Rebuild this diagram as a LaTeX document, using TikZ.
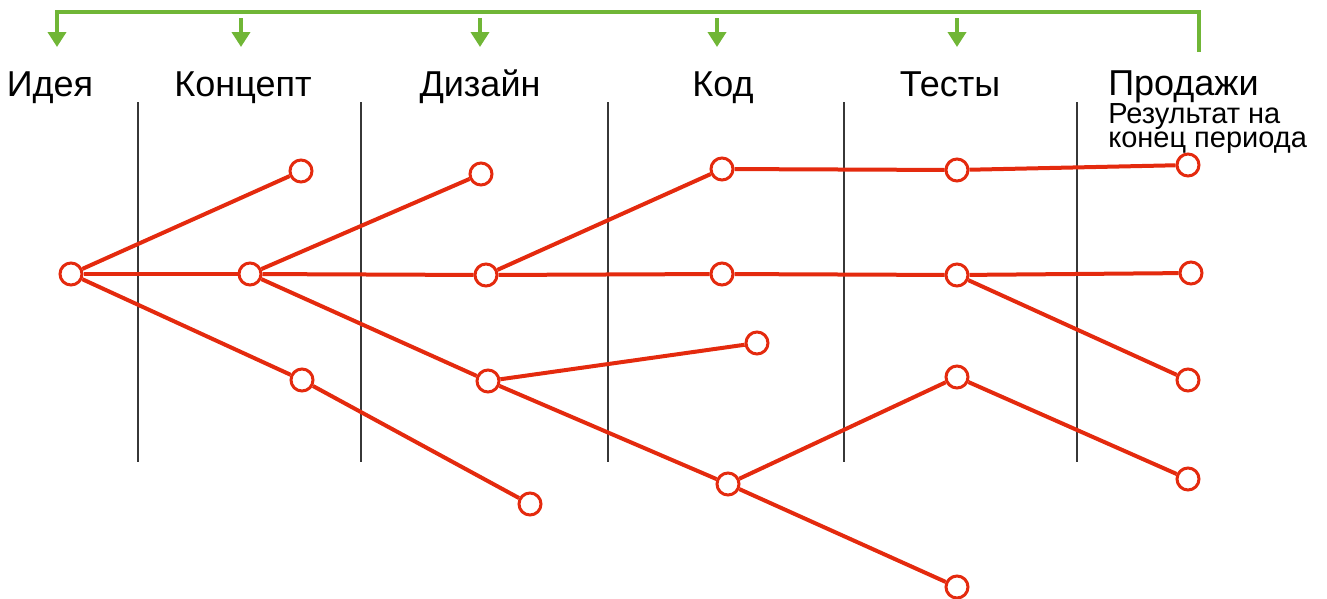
\documentclass[tikz,border=0pt]{standalone}
\usepackage{fontspec}
\setmainfont{Liberation Sans}
\usetikzlibrary{arrows.meta,positioning}
\definecolor{stagered}{RGB}{228,42,14}
\definecolor{flowgreen}{RGB}{112,182,54}
\definecolor{divgray}{RGB}{55,55,55}
\tikzstyle{circ}=[circle,draw=stagered,fill=white,line width=3pt,inner sep=0pt,minimum size=22pt]
\tikzstyle{stage}=[anchor=base,inner sep=0pt,font=\fontsize{36}{38}\selectfont]
\tikzstyle{note}=[anchor=base west,inner sep=0pt,font=\fontsize{29}{30}\selectfont]
\tikzstyle{back}=[flowgreen,line width=4.5pt,-{Triangle[width=18pt,length=15pt]}]
\tikzset{every picture/.style={line width=0.5pt}}

\begin{document}
\begin{tikzpicture}[x=1pt,y=-1pt]
\useasboundingbox (0,0) rectangle (1327,598);
% stage titles
\node[stage] (Id) at (50,96) {Идея};
\node[stage] (Ko) at (243,96) {Концепт};
\node[stage] (Di) at (480,96) {Дизайн};
\node[stage] (Cd) at (723,96) {Код};
\node[stage] (Te) at (950,96) {Тесты};
\node[stage,anchor=base west] (Pr) at (1108,95) {Продажи};
\node[note] (Res1) at (1108,123) {Результат на};
\node[note] (Res2) at (1108,147) {конец периода};
% green feedback bracket
\coordinate (G0) at (57,12);
\coordinate (G1) at (1199,12);
\coordinate (G2) at (1199,52);
\coordinate (Ea) at (57,47);
\draw[back] (G2) -- (G1) -- (G0) -- (Ea);
\foreach \x/\n in {241/b,480/c,717/d,957/e}{
  \coordinate (S\n) at (\x,18);
  \coordinate (E\n) at (\x,47);
  \draw[back,line width=4pt] (S\n) -- (E\n);
}
% dividers
\foreach \x/\n in {138/1,361/2,608/3,844/4,1077/5}{
  \coordinate (V\n) at (\x,102);
  \coordinate (W\n) at (\x,462);
  \draw[divgray,line width=2.4pt] (V\n) -- (W\n);
}
% tree
\node[circ] (I0) at (71,274) {};
\node[circ] (K1) at (301,171) {};
\node[circ] (K0) at (250,274) {};
\node[circ] (K2) at (302,380) {};
\node[circ] (D1) at (481,174) {};
\node[circ] (D0) at (486,275) {};
\node[circ] (D2) at (488,381) {};
\node[circ] (D3) at (530,504) {};
\node[circ] (C1) at (722,169) {};
\node[circ] (C0) at (722,274) {};
\node[circ] (C2) at (757,343) {};
\node[circ] (C3) at (728,484) {};
\node[circ] (T1) at (957,170) {};
\node[circ] (T0) at (957,275) {};
\node[circ] (T2) at (957,377) {};
\node[circ] (T3) at (957,587) {};
\node[circ] (P1) at (1188,165) {};
\node[circ] (P0) at (1191,273) {};
\node[circ] (P2) at (1188,380) {};
\node[circ] (P3) at (1188,479) {};
\path[every edge/.style={draw=stagered,line width=4pt}]
(I0) edge (K1)
(I0) edge (K0)
(I0) edge (K2)
(K2) edge (D3)
(K0) edge (D1)
(K0) edge (D0)
(K0) edge (D2)
(D0) edge (C1)
(D0) edge (C0)
(D2) edge (C2)
(D2) edge (C3)
(C1) edge (T1)
(C0) edge (T0)
(C3) edge (T2)
(C3) edge (T3)
(T1) edge (P1)
(T0) edge (P0)
(T0) edge (P2)
(T2) edge (P3);
\end{tikzpicture}
\end{document}
